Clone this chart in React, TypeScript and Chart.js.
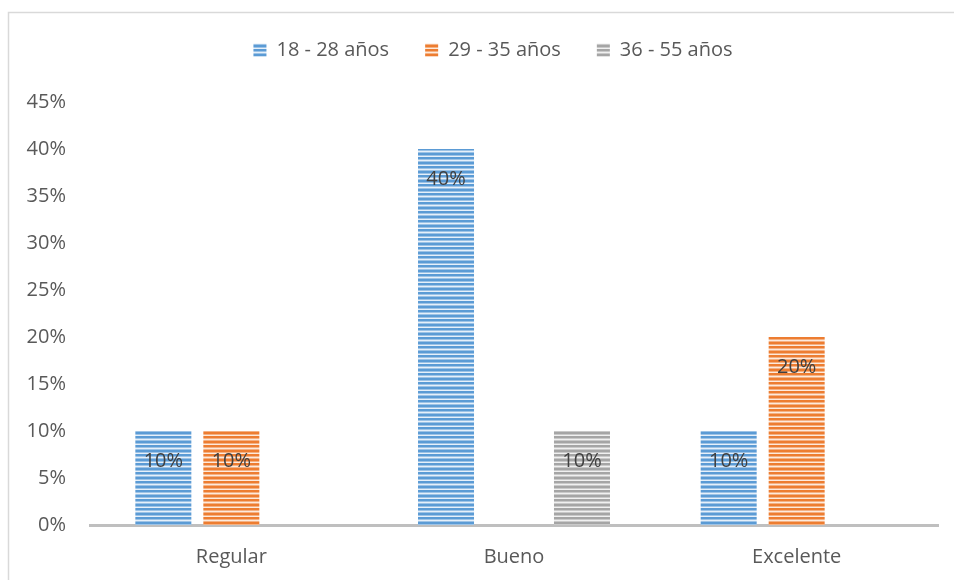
import React, { useEffect, useRef } from "react";
import { Chart, registerables } from "chart.js";

Chart.register(...registerables);

const categories = ["Regular", "Bueno", "Excelente"];
const seriesNames = ["18 - 28 años", "29 - 35 años", "36 - 55 años"];
const serie1828 = [10, 40, 10];
const serie2935 = [10, 0, 20];
const serie3655 = [0, 10, 0];
const yTicks = [0, 5, 10, 15, 20, 25, 30, 35, 40, 45];

const palettes = [
  ["#5b9bd5", "#9dc3e6", "#e6f0fa"],
  ["#ed7d31", "#f4b183", "#fdeadc"],
  ["#a5a5a5", "#c9c9c9", "#f0f0f0"],
];

function makePattern(dark: string, mid: string, light: string): CanvasPattern | string {
  const c = document.createElement("canvas");
  c.width = 4;
  c.height = 9;
  const ctx = c.getContext("2d");
  if (!ctx) return dark;
  const rows = [dark, dark, mid, light, dark, dark, mid, light, mid];
  rows.forEach((col, i) => {
    ctx.fillStyle = col;
    ctx.fillRect(0, i, 4, 1);
  });
  const p = ctx.createPattern(c, "repeat");
  return p || dark;
}

const FONT = "'Open Sans', 'Liberation Sans', sans-serif";

const frame = {
  id: "frame",
  beforeInit(chart: any) {
    const legend = chart.legend;
    if (legend) {
      const orig = legend.fit;
      legend.fit = function () {
        orig.call(this);
        this.height = 98;
      };
    }
  },
  afterLayout(chart: any) {
    const legend = chart.legend;
    if (legend) {
      legend.left += 22;
      legend.right += 22;
    }
  },
  beforeDraw(chart: any) {
    const ctx = chart.ctx;
    ctx.save();
    ctx.fillStyle = "#ffffff";
    ctx.fillRect(0, 0, chart.width, chart.height);
    ctx.strokeStyle = "#d9d9d9";
    ctx.lineWidth = 1.5;
    ctx.beginPath();
    ctx.moveTo(8.5, chart.height);
    ctx.lineTo(8.5, 12.5);
    ctx.lineTo(chart.width, 12.5);
    ctx.stroke();
    ctx.restore();
  },
};

const barLabels = {
  id: "barLabels",
  afterDatasetsDraw(chart: any) {
    const ctx = chart.ctx;
    ctx.save();
    ctx.font = `20px ${FONT}`;
    ctx.fillStyle = "#404040";
    ctx.textAlign = "center";
    ctx.textBaseline = "middle";
    chart.data.datasets.forEach((ds: any, di: number) => {
      const meta = chart.getDatasetMeta(di);
      meta.data.forEach((bar: any, i: number) => {
        const v = ds.data[i];
        if (!v) return;
        ctx.fillText(`${v}%`, bar.x, bar.y + 30);
      });
    });
    ctx.restore();
  },
};

export default function App() {
  const ref = useRef<HTMLCanvasElement>(null);
  useEffect(() => {
    if (!ref.current) return;
    const series = [serie1828, serie2935, serie3655];
    const chart = new Chart(ref.current, {
      type: "bar",
      data: {
        labels: categories,
        datasets: series.map((d, i) => ({
          label: seriesNames[i],
          data: d,
          backgroundColor: makePattern(palettes[i][0], palettes[i][1], palettes[i][2]) as any,
          borderWidth: 0,
          categoryPercentage: 0.7216,
          barPercentage: 0.8235,
        })),
      },
      options: {
        responsive: false,
        animation: false,
        layout: { padding: { left: 4, right: 16, top: 4, bottom: 0 } },
        plugins: {
          tooltip: { enabled: false },
          legend: {
            display: true,
            position: "top",
            labels: {
              boxWidth: 13,
              boxHeight: 13,
              padding: 36,
              color: "#595959",
              font: { family: FONT, size: 20 },
            },
          },
        },
        scales: {
          x: {
            grid: { display: false, drawTicks: false },
            border: { display: true, color: "#bfbfbf", width: 3 },
            afterFit: (scale: any) => {
              scale.height = 55;
            },
            ticks: {
              padding: 20,
              color: "#595959",
              font: { family: FONT, size: 20 },
            },
          },
          y: {
            min: 0,
            max: 45,
            afterBuildTicks: (scale: any) => {
              scale.ticks = yTicks.map((v) => ({ value: v }));
            },
            afterFit: (scale: any) => {
              scale.width = 86;
            },
            grid: { display: false, drawTicks: false },
            border: { display: false },
            ticks: {
              padding: 24,
              color: "#595959",
              font: { family: FONT, size: 20 },
              callback: (v: any) => `${v}%`,
            },
          },
        },
      },
      plugins: [frame, barLabels],
    });
    return () => chart.destroy();
  }, []);
  return (
    <div style={{ position: "fixed", left: 0, top: 0, width: 954, height: 580, background: "#fff" }}>
      <canvas ref={ref} width={954} height={580} style={{ display: "block" }} />
    </div>
  );
}
